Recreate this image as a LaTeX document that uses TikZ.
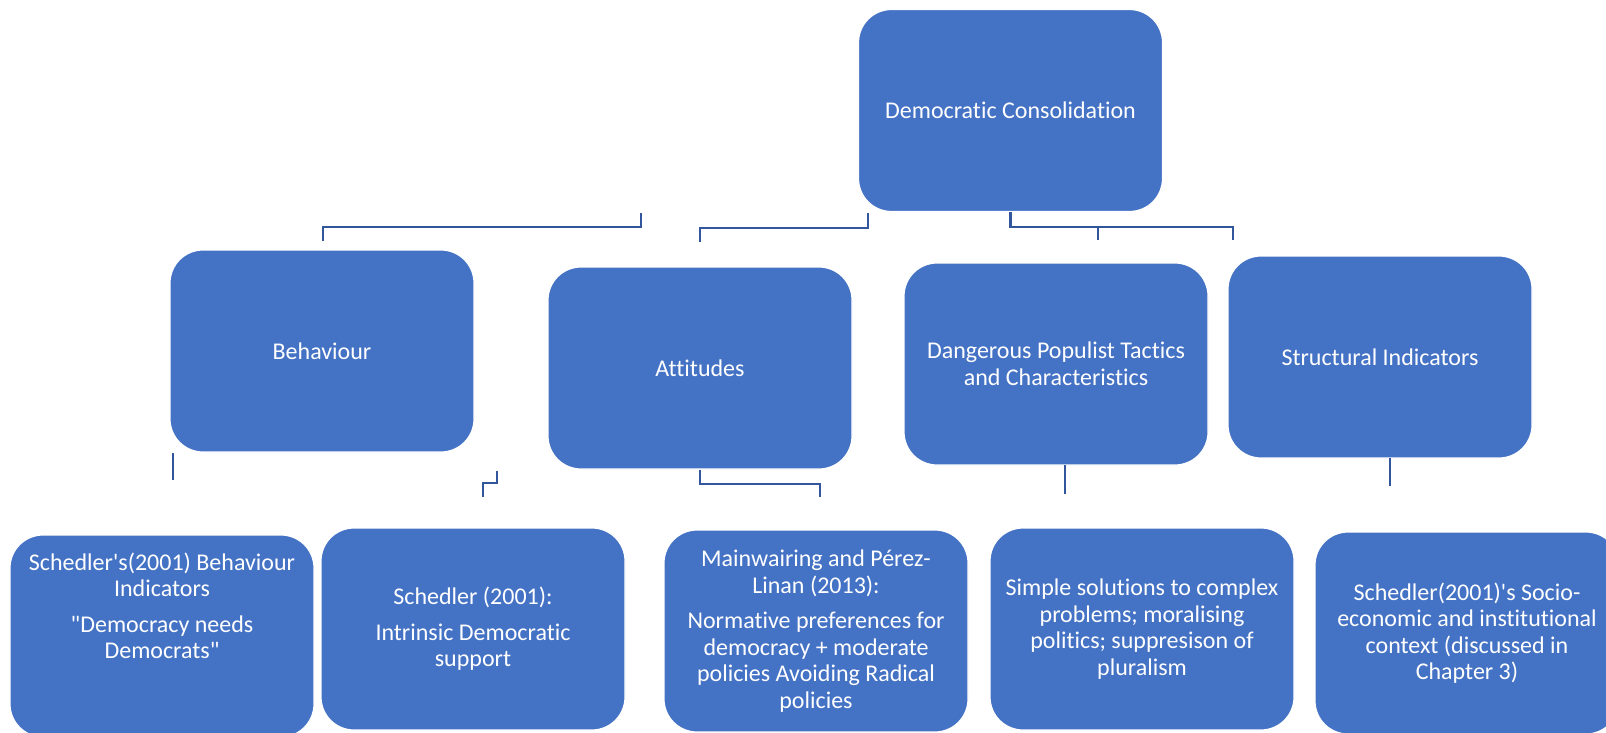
\documentclass[tikz,border=0pt]{standalone}
\usepackage{fontspec}
\setmainfont{Carlito}[Ligatures={NoCommon}]
\usetikzlibrary{positioning}
\definecolor{smblue}{RGB}{68,114,196}
\definecolor{smline}{RGB}{50,86,156}
\tikzset{
  box/.style={draw=white, line width=1.2pt, fill=smblue, rounded corners=33pt,
              minimum width=304pt, minimum height=202pt, inner sep=0pt,
              text=white, align=center, font=\fontsize{24}{26.5}\selectfont},
  lbl/.style={text=white, align=center, font=\fontsize{24}{26.5}\selectfont},
  conn/.style={smline, line width=2.2pt},
}

\begin{document}
\begin{tikzpicture}[x=1pt, y=-1pt]
  \useasboundingbox (0,0) rectangle (1606,733);
  \clip (0,0) rectangle (1606,733);
  % top
  \node[box] (demcon) at (1010.5,110.5) {Democratic Consolidation};
  % second row
  \node[box] (behav) at (322,351) {Behaviour};
  \node[box] (attit) at (700,368) {Attitudes};
  \node[box] (popul) at (1056,364) {Dangerous Populist Tactics\\and Characteristics};
  \node[box] (struc) at (1380,357) {Structural Indicators};
  % third row
  \node[box] (behind) at (162,636) {};
  \node[lbl] (behindtxt) at (162,606) {Schedler\textquotesingle s(2001) Behaviour\\Indicators\\[9pt]\textquotedbl Democracy needs\\Democrats\textquotedbl};
  \node[box] (intrin) at (473,629) {Schedler (2001):\\[9pt]Intrinsic Democratic\\support};
  \node[box] (normpref) at (816,631) {Mainwairing and Pérez-\\Linan (2013):\\[9pt]Normative preferences for\\democracy + moderate\\policies Avoiding Radical\\policies};
  \node[box] (simple) at (1142,629) {Simple solutions to complex\\problems; moralising\\politics; suppresison of\\pluralism};
  \node[box] (socio) at (1467,633) {Schedler(2001)\textquotesingle s Socio-\\economic and institutional\\context (discussed in\\Chapter 3)};

  % connector ends
  \coordinate (b1top) at (641,213);
  \coordinate (b1end) at (323,241);
  \coordinate (b2top) at (868,213);
  \coordinate (b2end) at (700,242);
  \coordinate (b3end) at (1233,240);
  \coordinate (b3mid) at (1098,240);
  \coordinate (l1top) at (173,453);
  \coordinate (l1end) at (173,480);
  \coordinate (l2top) at (497,471);
  \coordinate (l2end) at (483,497);
  \coordinate (l3end) at (820,497);
  \coordinate (l4top) at (1065,465);
  \coordinate (l4end) at (1065,494);
  \coordinate (l5top) at (1390,458);
  \coordinate (l5end) at (1390,486);

  \draw[conn] (b1top) -- ++(0,14) -| (b1end);
  \draw[conn] (b2top) -- ++(0,15) -| (b2end);
  \draw[conn] (demcon.south) -- ++(0,15) -| (b3end);
  \draw[conn] (b3mid) -- ++(0,-13);
  \draw[conn] (l1top) -- (l1end);
  \draw[conn] (l2top) -- ++(0,12) -| (l2end);
  \draw[conn] (attit.south) -- ++(0,14) -| (l3end);
  \draw[conn] (l4top) -- (l4end);
  \draw[conn] (l5top) -- (l5end);
\end{tikzpicture}
\end{document}
